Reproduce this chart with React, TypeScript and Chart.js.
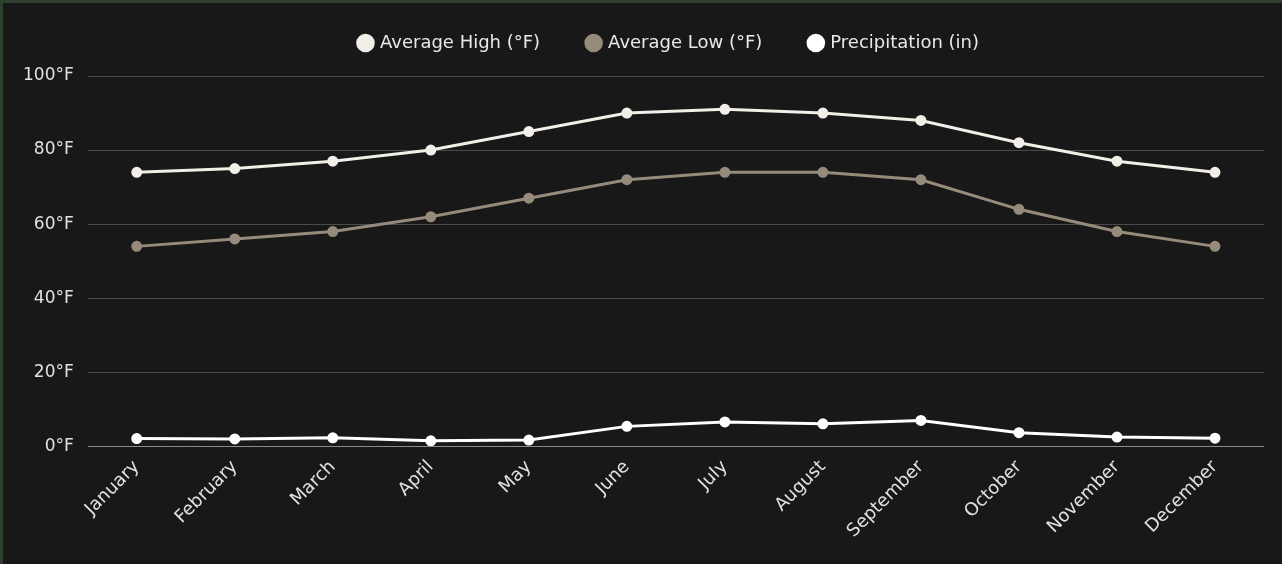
import React, { useEffect, useRef } from "react";
import { Chart, registerables } from "chart.js";

Chart.register(...registerables);

const months = ["January", "February", "March", "April", "May", "June", "July", "August", "September", "October", "November", "December"];
const avgHigh = [74, 75, 77, 80, 85, 90, 91, 90, 88, 82, 77, 74];
const avgLow = [54, 56, 58, 62, 67, 72, 74, 74, 72, 64, 58, 54];
const precipitation = [2.1, 2.0, 2.3, 1.5, 1.7, 5.4, 6.6, 6.1, 7.0, 3.7, 2.5, 2.2];

const FONT = "'DejaVu Sans', sans-serif";

const legendSpacer = {
  id: "legendSpacer",
  beforeInit(chart: any) {
    const orig = chart.legend.fit;
    chart.legend.fit = function () {
      orig.bind(chart.legend)();
      this.height += 14;
    };
  },
  afterLayout(chart: any) {
    chart.legend.left += 33;
    chart.legend.right += 33;
  },
};

export default function App() {
  const ref = useRef<HTMLCanvasElement>(null);
  useEffect(() => {
    document.body.style.margin = "0";
    document.body.style.background = "#2f3f2e";
    const ctx = ref.current!;
    const chart = new Chart(ctx, {
      type: "line",
      data: {
        labels: months,
        datasets: [
          {
            label: "Average High (°F)",
            data: avgHigh,
            borderColor: "#f2eee8",
            backgroundColor: "#f2eee8",
            borderWidth: 3,
            pointRadius: 4,
          },
          {
            label: "Average Low (°F)",
            data: avgLow,
            borderColor: "#968b7b",
            backgroundColor: "#968b7b",
            borderWidth: 3,
            pointRadius: 4,
          },
          {
            label: "Precipitation (in)",
            data: precipitation,
            borderColor: "#ffffff",
            backgroundColor: "#ffffff",
            borderWidth: 3,
            pointRadius: 4,
          },
        ],
      },
      plugins: [legendSpacer],
      options: {
        animation: false,
        responsive: true,
        maintainAspectRatio: false,
        layout: { padding: { top: -17, left: 6, right: 18, bottom: 20 } },
        plugins: {
          legend: {
            position: "top",
            labels: {
              usePointStyle: true,
              pointStyle: "circle",
              boxWidth: 11,
              boxHeight: 11,
              padding: 48,
              color: "#e8e8e8",
              font: { family: FONT, size: 18 },
            },
          },
          tooltip: { enabled: false },
        },
        scales: {
          x: {
            offset: true,
            grid: { display: false },
            border: { display: false },
            ticks: {
              color: "#e0e0e0",
              font: { family: FONT, size: 18 },
              maxRotation: 45,
              minRotation: 45,
              padding: 2,
            },
          },
          y: {
            min: 0,
            max: 100,
            grid: {
              color: (c: any) => (c.tick && c.tick.value === 0 ? "#8a8a8a" : "#4a4a4a"),
              drawTicks: false,
              lineWidth: 1,
            },
            border: { display: false },
            ticks: {
              stepSize: 20,
              color: "#e0e0e0",
              font: { family: FONT, size: 17 },
              padding: 14,
              callback: (v: any) => v + "°F",
            },
          },
        },
      },
    });
    return () => chart.destroy();
  }, []);
  return (
    <div style={{ position: "absolute", left: 3, top: 3, width: 1279, height: 561, background: "#181818" }}>
      <canvas ref={ref} />
    </div>
  );
}
